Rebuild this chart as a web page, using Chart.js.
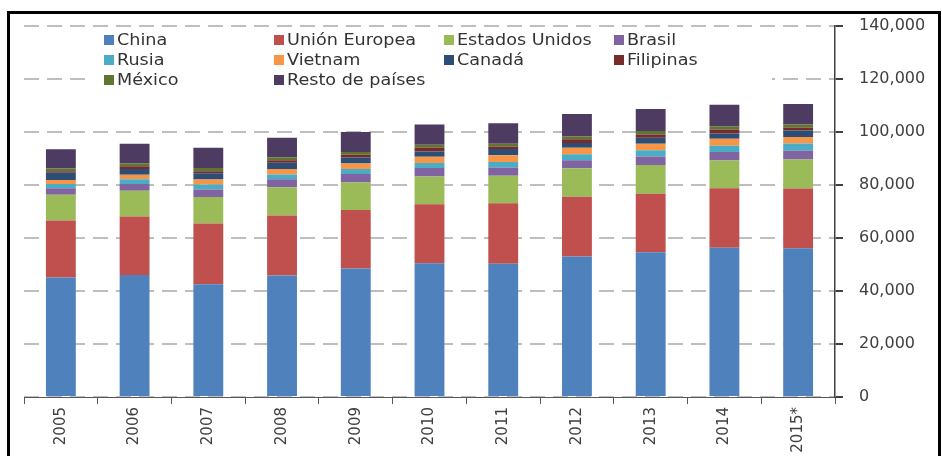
<!DOCTYPE html>
<html>
<head>
<meta charset="utf-8">
<script src="https://cdn.jsdelivr.net/npm/chart.js@4.4.1/dist/chart.umd.min.js"></script>
<style>
  html, body { margin: 0; padding: 0; background: #fff; overflow: hidden; }
  #frame { position: absolute; left: 7px; top: 11px; width: 928px; height: 470px; border: 3px solid #000; }
  #wrap { position: absolute; left: 0; top: 0; width: 942px; height: 456px; }
</style>
</head>
<body>
<div id="frame"></div>
<div id="wrap"><canvas id="chart" width="942" height="456"></canvas></div>
<script>
const years = ['2005', '2006', '2007', '2008', '2009', '2010', '2011', '2012', '2013', '2014', '2015*'];

const china         = [45000, 46000, 42500, 45800, 48400, 50400, 50200, 53000, 54600, 56300, 56100];
const unionEuropea  = [21500, 22000, 22900, 22600, 22100, 22260, 22870, 22490, 22000, 22380, 22530];
const estadosUnidos = [9700, 9700, 9950, 10700, 10330, 10450, 10330, 10700, 10820, 10450, 10930];
const brasil        = [2500, 2600, 2870, 2980, 3210, 3210, 3100, 3100, 3240, 3240, 3250];
const rusia         = [1600, 1750, 1870, 1750, 1860, 1860, 2120, 2240, 2350, 2350, 2720];
const vietnam       = [1500, 1750, 1860, 2100, 2130, 2390, 2470, 2390, 2500, 2610, 2500];
const canada        = [2700, 2100, 2350, 2390, 2240, 1970, 2380, 1860, 2240, 1980, 2460];
const filipinas     = [630, 1100, 750, 970, 1000, 1500, 970, 1340, 1230, 1490, 1010];
const mexico        = [970, 1000, 1230, 1010, 1120, 1000, 1010, 1120, 1270, 1270, 1230];
const resto         = [7300, 7500, 7720, 7460, 7460, 7690, 7710, 8470, 8310, 8060, 7720];

const yTicks = [0, 20000, 40000, 60000, 80000, 100000, 120000, 140000];

const series = [
    { label: 'China', data: china, color: '#4F81BD' },
    { label: 'Unión Europea', data: unionEuropea, color: '#C0504D' },
    { label: 'Estados Unidos', data: estadosUnidos, color: '#9BBB59' },
    { label: 'Brasil', data: brasil, color: '#8064A2' },
    { label: 'Rusia', data: rusia, color: '#4BACC6' },
    { label: 'Vietnam', data: vietnam, color: '#F79646' },
    { label: 'Canadá', data: canada, color: '#2C4D75' },
    { label: 'Filipinas', data: filipinas, color: '#772C2A' },
    { label: 'México', data: mexico, color: '#5F7530' },
    { label: 'Resto de países', data: resto, color: '#4D3B62' }
];

const FONT = "'DejaVu Sans', sans-serif";

// legend laid out in 4 fixed columns on a white box, like the original
const gridLegend = {
    id: 'gridLegend',
    afterDraw(chart) {
        const ctx = chart.ctx;
        ctx.save();
        ctx.fillStyle = '#fff';
        ctx.fillRect(86, 29, 686, 62);
        ctx.font = '16px ' + FONT;
        ctx.textBaseline = 'middle';
        chart.data.datasets.forEach((ds, i) => {
            const col = i % 4, row = Math.floor(i / 4);
            const x = 104 + col * 170;
            const y = 40 + row * 20;
            ctx.fillStyle = ds.backgroundColor;
            ctx.fillRect(x, y - 5, 10, 10);
            ctx.save();
            ctx.translate(x + 13, y + 1);
            ctx.scale(1.1, 1); // source text is a little wider
            ctx.fillStyle = '#333';
            ctx.fillText(ds.label, 0, 0);
            ctx.restore();
        });
        ctx.restore();
    }
};

new Chart(document.getElementById('chart'), {
    type: 'bar',
    data: {
        labels: years,
        datasets: series.map(s => ({
            label: s.label,
            data: s.data,
            backgroundColor: s.color,
            borderWidth: 0,
            categoryPercentage: 1,
            barPercentage: 0.405
        }))
    },
    options: {
        responsive: false,
        animation: false,
        layout: { padding: { left: 24, top: 22, right: 0, bottom: 0 } },
        scales: {
            x: {
                stacked: true,
                afterFit: s => { s.height = 59; },
                border: { color: '#595959', width: 1 },
                grid: { display: true, drawOnChartArea: false, tickLength: 7, tickColor: '#595959', offset: true },
                ticks: {
                    color: '#404040',
                    font: { family: FONT, size: 15 },
                    minRotation: 90,
                    maxRotation: 90,
                    padding: 3
                }
            },
            y: {
                stacked: true,
                position: 'right',
                min: 0,
                max: 140000,
                afterFit: s => { s.width = 107; },
                afterBuildTicks: s => { s.ticks = yTicks.map(v => ({ value: v })); },
                border: { color: '#404040', width: 1.5, dash: [15, 8] },
                grid: {
                    color: '#BEBEBE',
                    lineWidth: 2,
                    tickBorderDash: [],
                    tickColor: '#404040',
                    tickLength: 8
                },
                ticks: {
                    color: '#404040',
                    font: { family: FONT, size: 16 },
                    padding: 16,
                    callback: v => v.toLocaleString('en-US')
                }
            }
        },
        plugins: {
            legend: { display: false },
            tooltip: { enabled: false }
        }
    },
    plugins: [gridLegend]
});
</script>
</body>
</html>
